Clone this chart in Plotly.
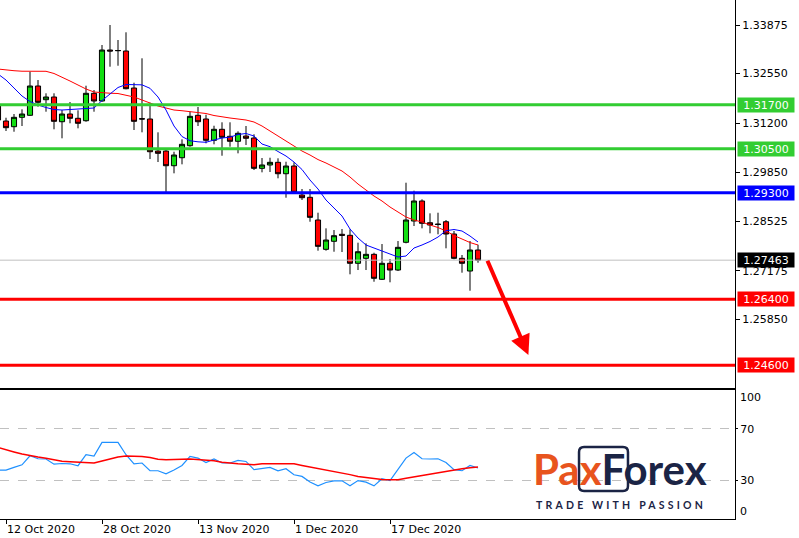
import plotly.graph_objects as go

# ---------------- data ----------------
bar_index = list(range(-1, 60))

open_ = [1.31694, 1.31257, 1.31102, 1.31358, 1.31413, 1.32212, 1.31838, 1.31912, 1.31238, 1.31448,
         1.31331, 1.31265, 1.32013, 1.31803, 1.33193, 1.33174, 1.33166, 1.32157, 1.31320, 1.31312,
         1.30439, 1.30439, 1.30038, 1.30256, 1.30584, 1.31413, 1.31312, 1.30731, 1.31031, 1.30840,
         1.30704, 1.30848, 1.30794, 1.29967, 1.30058, 1.30131, 1.29820, 1.30030, 1.29239, 1.29177,
         1.28558, 1.27758, 1.27977, 1.28168, 1.28141, 1.27377, 1.27513, 1.27622, 1.26941, 1.27377,
         1.27194, 1.27950, 1.28530, 1.29076, 1.28484, 1.28449, 1.28511, 1.28176, 1.27513, 1.27167,
         1.27740]
high = [1.31966, 1.31347, 1.31448, 1.31576, 1.32602, 1.32375, 1.32013, 1.32013, 1.31557, 1.31775,
        1.31549, 1.32220, 1.32103, 1.33330, 1.33875, 1.33466, 1.33676, 1.32302, 1.32967, 1.31756,
        1.30949, 1.30466, 1.30420, 1.30758, 1.31511, 1.31639, 1.31429, 1.31129, 1.31222, 1.31222,
        1.30976, 1.31121, 1.30895, 1.30248, 1.30256, 1.30240, 1.30147, 1.30131, 1.29403, 1.29403,
        1.28757, 1.28331, 1.28285, 1.28312, 1.28304, 1.27939, 1.27922, 1.27666, 1.27903, 1.27494,
        1.27985, 1.29575, 1.29357, 1.29122, 1.28740, 1.28757, 1.28558, 1.28258, 1.27603, 1.27985,
        1.27884]
low = [1.31066, 1.30985, 1.30965, 1.31121, 1.31394, 1.31647, 1.31511, 1.31031, 1.30786, 1.31195,
       1.31058, 1.31238, 1.31511, 1.31783, 1.32738, 1.32765, 1.32122, 1.31012, 1.30949, 1.30221,
       1.30139, 1.29313, 1.29831, 1.30076, 1.30557, 1.31121, 1.30649, 1.30622, 1.30311, 1.30557,
       1.30376, 1.30603, 1.29921, 1.29858, 1.29866, 1.29695, 1.29166, 1.29286, 1.29103, 1.28511,
       1.27721, 1.27721, 1.27693, 1.27685, 1.27077, 1.27194, 1.27194, 1.26875, 1.26922, 1.26859,
       1.27167, 1.27922, 1.28394, 1.28331, 1.28195, 1.28168, 1.27786, 1.27486, 1.27121, 1.26630,
       1.27393]
close = [1.31285, 1.31075, 1.31358, 1.31448, 1.32212, 1.31767, 1.31912, 1.31249, 1.31448, 1.31331,
         1.31195, 1.32013, 1.31803, 1.33193, 1.33166, 1.33180, 1.32138, 1.31249, 1.31312, 1.30420,
         1.30376, 1.30038, 1.30330, 1.30622, 1.31385, 1.31238, 1.30731, 1.31031, 1.30813, 1.30704,
         1.30922, 1.30786, 1.29967, 1.30058, 1.30131, 1.29820, 1.30030, 1.29313, 1.29166, 1.28631,
         1.27840, 1.28012, 1.28130, 1.28141, 1.27377, 1.27693, 1.27622, 1.26968, 1.27377, 1.27194,
         1.27813, 1.28558, 1.29076, 1.28468, 1.28421, 1.28435, 1.28176, 1.27513, 1.27377, 1.27740,
         1.27463]

ma_slow = [1.32675, 1.32648, 1.32629, 1.32615, 1.32613, 1.32613, 1.32613, 1.32553, 1.32457, 1.32348,
           1.32239, 1.32130, 1.32048, 1.32026, 1.32015, 1.32007, 1.31966, 1.31912, 1.31830, 1.31748,
           1.31666, 1.31612, 1.31557, 1.31538, 1.31516, 1.31497, 1.31462, 1.31407, 1.31366, 1.31339,
           1.31312, 1.31285, 1.31230, 1.31121, 1.30985, 1.30848, 1.30698, 1.30562, 1.30439, 1.30330,
           1.30206, 1.30112, 1.30003, 1.29894, 1.29730, 1.29539, 1.29376, 1.29212, 1.29076, 1.28912,
           1.28776, 1.28640, 1.28558, 1.28503, 1.28421, 1.28353, 1.28258, 1.28135, 1.28040, 1.27944,
           1.27876]
ma_fast = [1.32539, 1.32375, 1.32157, 1.31939, 1.31789, 1.31694, 1.31625, 1.31571, 1.31557, 1.31571,
           1.31598, 1.31604, 1.31612, 1.31816, 1.31994, 1.32171, 1.32253, 1.32258, 1.32244, 1.32149,
           1.31912, 1.31557, 1.31121, 1.30834, 1.30720, 1.30690, 1.30677, 1.30739, 1.30794, 1.30816,
           1.30889, 1.30917, 1.30848, 1.30630, 1.30557, 1.30426, 1.30303, 1.30139, 1.29935, 1.29648,
           1.29403, 1.29103, 1.28885, 1.28667, 1.28312, 1.28067, 1.27876, 1.27794, 1.27699, 1.27617,
           1.27549, 1.27576, 1.27794, 1.27876, 1.27972, 1.28094, 1.28266, 1.28299, 1.28258, 1.28121,
           1.27958]

osc_main = [37.9, 37.9, 40, 42, 49, 46.7, 46.5, 42.5, 43, 42.8,
            41.3, 49.8, 48.8, 59.4, 59.4, 59.4, 49.8, 42.8, 43.4, 37.4,
            37.4, 35, 38, 41.5, 48.5, 47.2, 43.8, 46.5, 43.4, 43.4,
            45.4, 44.6, 38.2, 39, 40, 37.4, 39, 34.3, 33, 28.6,
            25.7, 28.3, 29.6, 29.6, 25.7, 29.8, 28.6, 25.7, 31.2, 29.8,
            38.2, 47.2, 51.6, 46.7, 46.5, 46.7, 43.8, 38.2, 37.4, 41.5,
            39.5]
osc_signal = [55.5, 54, 52, 50.3, 49, 48, 47, 45.8, 44.7, 44.3,
              43.9, 43.6, 43.4, 44.9, 46.5, 48, 48.8, 48.8, 48.4, 47.6,
              46.4, 46, 45.9, 46.3, 46.5, 46, 45.6, 45.1, 44, 43.3,
              42.8, 42.5, 42.1, 42.8, 42.8, 42.8, 42.8, 42.8, 41.5, 40.4,
              39.3, 38, 36.8, 35.6, 34.4, 33, 32.1, 31.4, 30.7, 30.4,
              30.4, 31.5, 32.6, 33.7, 34.8, 35.9, 36.9, 37.9, 38.9, 39.7,
              40.3]

level_prices = [1.31700, 1.30500, 1.29300, 1.26400, 1.24600]
level_colors = ["#32cd32", "#32cd32", "#0000ff", "#ff0000", "#ff0000"]
current_price = 1.27463

price_ticks = [1.33875, 1.32550, 1.31200, 1.29850, 1.28525, 1.27175, 1.25850]
osc_ticks = [70, 30]
date_tick_index = [0, 12, 24, 36, 48]
date_labels = ["12 Oct 2020", "28 Oct 2020", "13 Nov 2020", "1 Dec 2020", "17 Dec 2020"]

arrow_start = (60.1, 1.27486)
arrow_end = (65.3, 1.24877)

# ---------------- figure ----------------
FONT = "DejaVu Sans"
X_RANGE = [-0.75, 91.125]

fig = go.Figure()
fig.add_trace(go.Candlestick(
    x=bar_index, open=open_, high=high, low=low, close=close,
    xaxis="x", yaxis="y", whiskerwidth=0,
    increasing=dict(line=dict(color="black", width=1), fillcolor="#11dd11"),
    decreasing=dict(line=dict(color="black", width=1), fillcolor="#ff0000"),
    showlegend=False, hoverinfo="skip"))
fig.add_trace(go.Scatter(x=bar_index, y=ma_slow, mode="lines", line=dict(color="#ff0000", width=1),
                         xaxis="x", yaxis="y", showlegend=False, hoverinfo="skip"))
fig.add_trace(go.Scatter(x=bar_index, y=ma_fast, mode="lines", line=dict(color="#0000ff", width=1),
                         xaxis="x", yaxis="y", showlegend=False, hoverinfo="skip"))
fig.add_trace(go.Scatter(x=bar_index, y=osc_main, mode="lines", line=dict(color="#1e90ff", width=1.2),
                         xaxis="x2", yaxis="y2", showlegend=False, hoverinfo="skip"))
fig.add_trace(go.Scatter(x=bar_index, y=osc_signal, mode="lines", line=dict(color="#ff0000", width=1.5),
                         xaxis="x2", yaxis="y2", showlegend=False, hoverinfo="skip"))

# horizontal levels
fig.add_shape(type="line", xref="paper", yref="y", x0=0, x1=1, y0=current_price, y1=current_price,
              line=dict(color="#c0c0c0", width=1))
for p, c in zip(level_prices, level_colors):
    fig.add_shape(type="line", xref="paper", yref="y", x0=0, x1=1, y0=p, y1=p,
                  line=dict(color=c, width=3))

# price tags
tag_prices = level_prices + [current_price]
tag_colors = level_colors + ["#000000"]
for p, c in zip(tag_prices, tag_colors):
    fig.add_annotation(xref="paper", yref="y", x=1.0023, y=p, xanchor="left", yanchor="middle",
                       text=f"{p:.5f}", showarrow=False, bgcolor=c, width=56, height=14,
                       borderpad=0, font=dict(family=FONT, size=11, color="white"))

# oscillator 100 / 0 labels
fig.add_annotation(xref="paper", yref="y2", x=1.004, y=100, yshift=-8, xanchor="left", yanchor="middle",
                   text="100", showarrow=False, font=dict(family=FONT, size=11, color="black"))
fig.add_annotation(xref="paper", yref="y2", x=1.004, y=0, yshift=7, xanchor="left", yanchor="middle",
                   text="0", showarrow=False, font=dict(family=FONT, size=11, color="black"))

# red arrow
fig.add_annotation(xref="x", yref="y", axref="x", ayref="y",
                   x=arrow_end[0], y=arrow_end[1], ax=arrow_start[0], ay=arrow_start[1],
                   text="", showarrow=True, arrowhead=2, arrowsize=1, arrowwidth=4, arrowcolor="#ff0000")

# logo (rounded box around "xF")
bx0, bx1, by0, by1 = 0.7878, 0.8544, 0.054, 0.1387
rx, ry = 0.0068, 0.0096
box_path = (f"M {bx0+rx},{by0} L {bx1-rx},{by0} Q {bx1},{by0} {bx1},{by0+ry} "
            f"L {bx1},{by1-ry} Q {bx1},{by1} {bx1-rx},{by1} L {bx0+rx},{by1} "
            f"Q {bx0},{by1} {bx0},{by1-ry} L {bx0},{by0+ry} Q {bx0},{by0} {bx0+rx},{by0} Z")
fig.add_shape(type="path", xref="paper", yref="paper", path=box_path,
              line=dict(color="#1b2445", width=2.5))
fig.add_annotation(xref="paper", yref="paper", x=0.8435, y=0.0963, xanchor="center", yanchor="middle",
                   text="<b><span style='color:#e8541e'>Pax</span><span style='color:#1b2445'>Forex</span></b>",
                   showarrow=False, font=dict(family="Lato", size=42))
fig.add_annotation(xref="paper", yref="paper", x=0.8447, y=0.0279, xanchor="center", yanchor="middle",
                   text="<b><span style='letter-spacing:3.2px'>TRADE WITH PASSION</span></b>",
                   showarrow=False, font=dict(family="Lato", size=10.5, color="#1b2445"))

axis_font = dict(family=FONT, size=11, color="black")
fig.update_layout(
    width=799, height=538, margin=dict(l=0, r=64, t=0, b=19),
    paper_bgcolor="white", plot_bgcolor="white", showlegend=False,
    boxgap=0.2, boxgroupgap=0.2,
    xaxis=dict(domain=[0, 1], range=X_RANGE, anchor="y", showticklabels=False, ticks="",
               showgrid=False, zeroline=False, showline=True, linecolor="black", linewidth=1,
               rangeslider=dict(visible=False)),
    yaxis=dict(domain=[0.2524, 1], range=[1.23977, 1.34557], side="right", anchor="x",
               tickvals=price_ticks, ticktext=[f"{v:.5f}" for v in price_ticks],
               ticks="outside", ticklen=4, tickcolor="black", showline=True, linecolor="black",
               showgrid=False, zeroline=False, tickfont=axis_font),
    xaxis2=dict(domain=[0, 1], range=X_RANGE, anchor="y2", tickvals=date_tick_index, ticktext=date_labels,
                ticks="outside", ticklen=4, tickcolor="black", ticklabelposition="outside right",
                showline=True, mirror=True, linecolor="black", showgrid=False, zeroline=False,
                tickfont=axis_font),
    yaxis2=dict(domain=[0, 0.2486], range=[0, 100], side="right", anchor="x2",
                tickvals=osc_ticks, ticks="outside", ticklen=2, tickcolor="black",
                showgrid=True, griddash="dash", gridcolor="#c0c0c0", gridwidth=1,
                showline=True, linecolor="black", zeroline=False, tickfont=axis_font),
)

fig.write_html("out.html", config={"displayModeBar": False},
               post_script="document.body.style.margin='0';document.body.style.overflow='hidden';")
